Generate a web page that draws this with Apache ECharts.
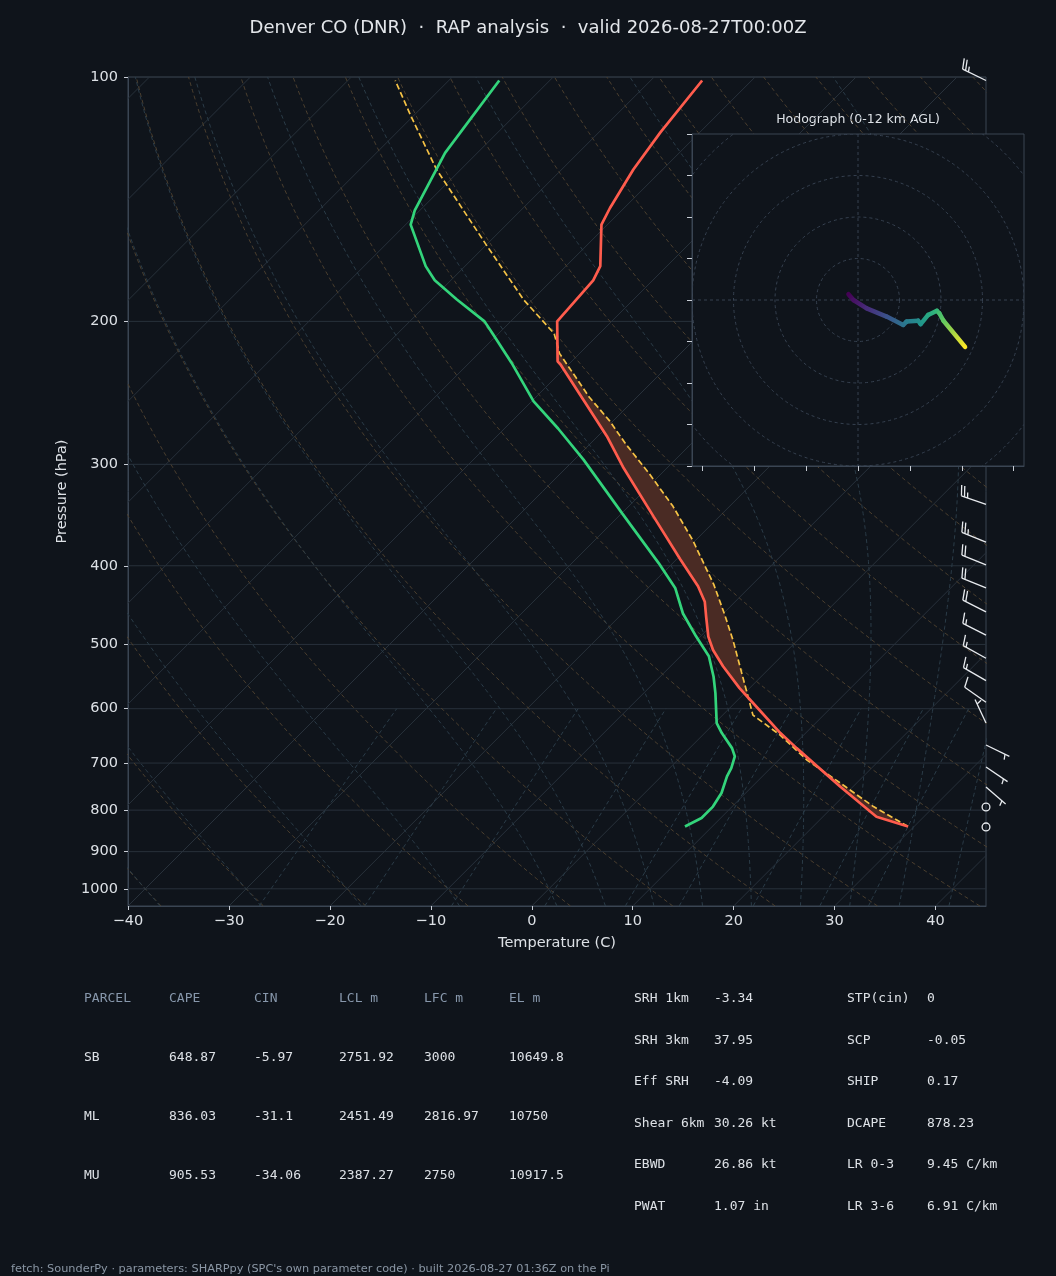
<!DOCTYPE html>
<html>
<head>
<meta charset="utf-8">
<title>Denver CO skew-T</title>
<script src="https://cdn.jsdelivr.net/npm/echarts@6/dist/echarts.min.js"></script>
<style>
  html, body { margin: 0; padding: 0; background: #0f141b; }
  #chart { width: 1056px; height: 1276px; }
</style>
</head>
<body>
<div id="chart"></div>
<script>
// --- layout of the skew-T box (pixels) ---
const BG = '#0f141b'
const FRAME = '#3a4553'
const TICK = '#c9ced6'
const TEXT = '#dde1e6'
const GRID_LEFT = 128
const GRID_TOP = 77
const GRID_W = 858
const GRID_H = 829
const T_MIN = -40
const T_MAX = 45
const P_TOP = 100
const P_BOT = 1050
// 45 degree skew, expressed in degC per decade of pressure
const SKEW = (GRID_H / Math.log10(P_BOT / P_TOP)) / (GRID_W / (T_MAX - T_MIN))

// --- tick labels ---
const pressureTicks = [100, 200, 300, 400, 500, 600, 700, 800, 900, 1000]
const tempTicks = [-40, -30, -20, -10, 0, 10, 20, 30, 40]

// --- sounding ---
const tempP = [838, 815, 748, 671, 643, 585, 566, 532, 508, 489, 462, 443, 424, 393, 348, 302, 277, 250, 226, 224, 200, 178, 171, 152, 145, 130, 117, 101]
const tempT = [29.4, 25.3, 18.7, 10.6, 7.5, 1.2, -1.0, -4.8, -7.4, -9.2, -11.4, -13.0, -15.2, -19.6, -26.5, -34.5, -39.1, -45.0, -50.8, -51.4, -55.4, -55.9, -56.6, -60.6, -61.4, -62.9, -63.9, -64.9]

const dewP = [838, 818, 792, 762, 727, 710, 687, 671, 643, 625, 574, 548, 517, 489, 458, 426, 397, 345, 296, 271, 251, 225, 207, 200, 188, 178, 171, 152, 146, 124, 101]
const dewT = [7.3, 8.1, 8.1, 7.6, 6.5, 6.1, 5.3, 4.2, 1.7, 0.2, -2.9, -4.7, -7.2, -10.4, -14.0, -17.3, -21.4, -29.9, -39.1, -44.7, -49.8, -55.8, -60.6, -62.6, -67.5, -71.6, -73.9, -79.5, -80.5, -83.2, -85.0]

const parcelP = [838, 792, 741, 694, 646, 611, 580, 542, 494, 460, 422, 372, 338, 308, 283, 265, 248, 219, 207, 188, 161, 130, 112, 101]
const parcelT = [29.4, 24.0, 18.4, 12.8, 7.6, 3.0, 0.7, -2.3, -6.4, -9.7, -13.8, -20.3, -25.6, -31.2, -36.5, -40.4, -44.7, -52.0, -54.5, -60.9, -70.0, -82.4, -90.1, -95.3]

// wind barbs: pressure, speed (kt), direction the wind blows from (deg)
const barbP = [101, 336, 374, 399, 426, 456, 487, 520, 554, 589, 625, 665, 708, 749, 793, 839]
const barbSpd = [25, 25, 25, 20, 20, 20, 15, 15, 15, 10, 5, 5, 5, 5, 0, 0]
const barbDir = [296, 289, 292, 292, 292, 297, 297, 299, 300, 305, 335, 116, 124, 131, 0, 0]

// hodograph (kt) and height AGL (km)
const hodoU = [-2.3, -1.1, 2.1, 6.9, 10.9, 11.7, 14.5, 15.1, 16.9, 19.0, 19.6, 20.6, 25.8]
const hodoV = [1.4, 0.0, -2.0, -4.0, -6.0, -5.2, -5.0, -5.8, -3.6, -2.6, -3.2, -5.0, -11.3]
const hodoH = [0, 0.5, 1.5, 3.0, 4.5, 5.0, 5.8, 6.2, 7.2, 8.0, 8.4, 9.0, 12.0]
const hodoRings = [10, 20, 30, 40, 50]
const hodoXTicks = [-37.5, -25, -12.5, 0, 12.5, 25, 37.5]

// background guides
const dryAdiabatStarts = []
for (let t = -40; t <= 250; t += 10) dryAdiabatStarts.push(t)
const moistAdiabatStarts = [-40, -30, -20, -10, 0, 5, 10, 15, 20, 25, 30, 35, 40, 45]
const mixingRatios = [0.0004, 0.001, 0.002, 0.004, 0.007, 0.01, 0.016, 0.024, 0.032]

// table
const parcelHeader = ['PARCEL', 'CAPE', 'CIN', 'LCL m', 'LFC m', 'EL m']
const parcelNames = ['SB', 'ML', 'MU']
const parcelCape = ['648.87', '836.03', '905.53']
const parcelCin = ['-5.97', '-31.1', '-34.06']
const parcelLcl = ['2751.92', '2451.49', '2387.27']
const parcelLfc = ['3000', '2816.97', '2750']
const parcelEl = ['10649.8', '10750', '10917.5']
const indexNamesA = ['SRH 1km', 'SRH 3km', 'Eff SRH', 'Shear 6km', 'EBWD', 'PWAT']
const indexValuesA = ['-3.34', '37.95', '-4.09', '30.26 kt', '26.86 kt', '1.07 in']
const indexNamesB = ['STP(cin)', 'SCP', 'SHIP', 'DCAPE', 'LR 0-3', 'LR 3-6']
const indexValuesB = ['0', '-0.05', '0.17', '878.23', '9.45 C/km', '6.91 C/km']

const VIRIDIS = ['#440154', '#482878', '#3e4989', '#31688e', '#26828e', '#1f9e89', '#35b779', '#6ece58', '#b5de2b', '#fde725']
const HODO_TOP = 12

// skewed x position for a temperature at a pressure
function skewX (t, p) {
  return t + SKEW * Math.log10(P_BOT / p)
}
function pt (t, p) {
  return [skewX(t, p), Math.log10(p)]
}
const GAP = ['-', '-']

function guideLevels () {
  const out = []
  for (let i = 0; i <= 60; i++) out.push(P_BOT * Math.pow(P_TOP / P_BOT, i / 60))
  return out
}

function isobarData () {
  const d = []
  pressureTicks.forEach(p => { d.push([T_MIN, Math.log10(p)], [T_MAX, Math.log10(p)], GAP) })
  return d
}

function isothermData () {
  const d = []
  for (let t = -130; t <= 40; t += 10) d.push(pt(t, P_BOT), pt(t, P_TOP), GAP)
  return d
}

function dryData () {
  const d = []
  const levels = guideLevels()
  dryAdiabatStarts.forEach(t0 => {
    levels.forEach(p => d.push(pt((t0 + 273.15) * Math.pow(p / 1000, 0.28571) - 273.15, p)))
    d.push(GAP)
  })
  return d
}

function moistRate (tK, p) {
  const tc = tK - 273.15
  const es = 6.112 * Math.exp(17.67 * tc / (tc + 243.5))
  const rs = 0.622 * es / (p - es)
  return (287.04 * tK + 2.501e6 * rs) / p / (1005.7 + 2.501e6 * 2.501e6 * rs * 0.622 / (287.04 * tK * tK))
}

function moistRun (t0, pEnd, dp) {
  const out = []
  let t = t0 + 273.15
  let p = 1000
  out.push([t, p])
  while ((dp < 0 && p > pEnd) || (dp > 0 && p < pEnd)) {
    const k1 = moistRate(t, p)
    const k2 = moistRate(t + k1 * dp / 2, p + dp / 2)
    const k3 = moistRate(t + k2 * dp / 2, p + dp / 2)
    const k4 = moistRate(t + k3 * dp, p + dp)
    t += dp * (k1 + 2 * k2 + 2 * k3 + k4) / 6
    p += dp
    out.push([t, p])
  }
  return out
}

function moistData () {
  const d = []
  moistAdiabatStarts.forEach(t0 => {
    const down = moistRun(t0, P_BOT, 5).reverse()
    const up = moistRun(t0, P_TOP, -5).slice(1)
    down.concat(up).forEach(([tK, p]) => d.push(pt(tK - 273.15, p)))
    d.push(GAP)
  })
  return d
}

function mixingData () {
  const d = []
  mixingRatios.forEach(w => {
    for (let p = P_BOT; p >= 600; p -= 25) {
      const e = w * p / (0.622 + w)
      const l = Math.log(e / 6.112)
      d.push(pt(243.5 * l / (17.67 - l), p))
    }
    d.push(GAP)
  })
  return d
}

function profile (ps, ts) {
  return ps.map((p, i) => pt(ts[i], p))
}

// linear interpolation in log-p
function interpAt (ps, ts, p) {
  for (let i = 0; i < ps.length - 1; i++) {
    if (p <= ps[i] && p >= ps[i + 1]) {
      const f = (Math.log(ps[i]) - Math.log(p)) / (Math.log(ps[i]) - Math.log(ps[i + 1]))
      return ts[i] + f * (ts[i + 1] - ts[i])
    }
  }
  return null
}

// positive area between parcel and environment
function capePolygon () {
  const top = Math.max(parcelP[parcelP.length - 1], tempP[tempP.length - 1])
  const levels = Array.from(new Set(tempP.concat(parcelP))).filter(p => p >= top).sort((a, b) => b - a)
  const upper = []
  const lower = []
  levels.forEach(p => {
    const te = interpAt(tempP, tempT, p)
    const tp = interpAt(parcelP, parcelT, p)
    if (te === null || tp === null) return
    upper.push(pt(Math.max(te, tp), p))
    lower.push(pt(te, p))
  })
  return upper.concat(lower.reverse())
}

// viridis lookup for hodograph height
function hexRgb (h) {
  return [1, 3, 5].map(i => parseInt(h.slice(i, i + 2), 16))
}
function viridisAt (f) {
  f = Math.min(1, Math.max(0, f)) * (VIRIDIS.length - 1)
  const i = Math.min(VIRIDIS.length - 2, Math.floor(f))
  const a = hexRgb(VIRIDIS[i])
  const b = hexRgb(VIRIDIS[i + 1])
  const k = f - i
  return 'rgb(' + a.map((v, j) => Math.round(v + (b[j] - v) * k)).join(',') + ')'
}

const BARB_LEN = 26
function barbGraphic (base, spd, dir) {
  const L = BARB_LEN
  const col = '#e8ebef'
  const style = { stroke: col, lineWidth: 1.3, fill: 'none' }
  const mag = 5 * Math.round(spd / 5)
  if (mag < 5) {
    return { type: 'circle', shape: { cx: base[0], cy: base[1], r: 0.15 * L }, style }
  }
  const rad = dir * Math.PI / 180
  const phi = Math.atan2(-Math.cos(rad), -Math.sin(rad)) + Math.PI / 2
  const c = Math.cos(phi)
  const s = Math.sin(phi)
  const toPx = ([x, y]) => [base[0] + x * c - y * s, base[1] - (x * s + y * c)]
  const h = 0.4 * L
  const w = 0.25 * L
  const sp = 0.125 * L
  let m = mag
  const nFlag = Math.floor(m / 50); m -= nFlag * 50
  const nBarb = Math.floor(m / 10); m -= nBarb * 10
  const half = m >= 5
  const kids = [{ type: 'polyline', shape: { points: [[0, 0], [0, L]].map(toPx) }, style }]
  let off = L
  for (let i = 0; i < nFlag; i++) {
    if (off !== L) off += sp / 2
    kids.push({ type: 'polygon', shape: { points: [[0, off], [h, off - w / 2], [0, off - w]].map(toPx) }, style: { fill: col, stroke: col, lineWidth: 1 } })
    off -= w + sp
  }
  for (let i = 0; i < nBarb; i++) {
    kids.push({ type: 'polyline', shape: { points: [[0, off], [h, off + w / 2]].map(toPx) }, style })
    off -= sp
  }
  if (half) {
    if (off === L) off -= 1.5 * sp
    kids.push({ type: 'polyline', shape: { points: [[0, off], [h / 2, off + w / 4]].map(toPx) }, style })
  }
  return { type: 'group', children: kids }
}

function guideSeries (data, color, dashed) {
  return {
    type: 'line',
    data,
    symbol: 'none',
    silent: true,
    connectNulls: false,
    clip: true,
    z: 1,
    lineStyle: { color, width: 1, type: dashed ? [4, 3] : 'solid' }
  }
}

const capePts = capePolygon()

const series = [
  guideSeries(isobarData(), '#28313b', false),
  guideSeries(isothermData(), '#28313b', false),
  guideSeries(dryData(), '#4b3f2f', true),
  guideSeries(moistData(), '#2b3c48', true),
  guideSeries(mixingData(), '#2b3c48', true),
  {
    type: 'custom',
    data: [[0, 2.5]],
    clip: true,
    silent: true,
    z: 2,
    renderItem: (params, api) => ({
      type: 'polygon',
      shape: { points: capePts.map(d => api.coord(d)) },
      style: { fill: '#4a2b24', stroke: 'none' }
    })
  },
  {
    type: 'line',
    data: profile(parcelP, parcelT),
    symbol: 'none',
    z: 3,
    lineStyle: { color: '#f5c245', width: 1.7, type: [6, 3] }
  },
  {
    type: 'line',
    data: profile(dewP, dewT),
    symbol: 'none',
    z: 4,
    lineStyle: { color: '#33d47b', width: 2.7 }
  },
  {
    type: 'line',
    data: profile(tempP, tempT),
    symbol: 'none',
    z: 4,
    lineStyle: { color: '#ff5c4d', width: 2.7 }
  },
  {
    type: 'custom',
    clip: false,
    silent: true,
    z: 5,
    data: barbP.map((p, i) => [T_MAX, Math.log10(p), barbSpd[i], barbDir[i]]),
    encode: { x: 0, y: 1 },
    renderItem: (params, api) => barbGraphic(api.coord([api.value(0), api.value(1)]), api.value(2), api.value(3))
  },
  {
    type: 'custom',
    xAxisIndex: 1,
    yAxisIndex: 1,
    zlevel: 1,
    z: 3,
    clip: true,
    silent: true,
    data: [[0, 0]],
    renderItem: (params, api) => {
      const c = api.coord([0, 0])
      const st = { fill: 'none', stroke: '#364150', lineWidth: 1, lineDash: [3, 3] }
      const kids = hodoRings.map(r => ({ type: 'circle', shape: { cx: c[0], cy: c[1], r: Math.abs(api.size([r, 0])[0]) }, style: st }))
      const l = api.coord([-40, 0])
      const r = api.coord([40, 0])
      const t = api.coord([0, 40])
      const b = api.coord([0, -40])
      kids.push({ type: 'line', shape: { x1: l[0], y1: l[1], x2: r[0], y2: r[1] }, style: st })
      kids.push({ type: 'line', shape: { x1: t[0], y1: t[1], x2: b[0], y2: b[1] }, style: st })
      return { type: 'group', children: kids }
    }
  },
  {
    // hodograph trace, one segment per pair of points, coloured by height
    type: 'custom',
    xAxisIndex: 1,
    yAxisIndex: 1,
    zlevel: 1,
    z: 5,
    clip: true,
    silent: true,
    data: hodoU.slice(1).map((u, i) => [hodoU[i], hodoV[i], u, hodoV[i + 1], hodoH[i], hodoH[i + 1]]),
    encode: { x: [0, 2], y: [1, 3] },
    renderItem: (params, api) => {
      const a = api.coord([api.value(0), api.value(1)])
      const b = api.coord([api.value(2), api.value(3)])
      const stroke = new echarts.graphic.LinearGradient(a[0], a[1], b[0] + 0.01, b[1] + 0.01, [
        { offset: 0, color: viridisAt(api.value(4) / HODO_TOP) },
        { offset: 1, color: viridisAt(api.value(5) / HODO_TOP) }
      ], true)
      return {
        type: 'line',
        shape: { x1: a[0], y1: a[1], x2: b[0], y2: b[1] },
        style: { stroke, lineWidth: 4.5, lineCap: 'round' }
      }
    }
  }
]

// table and captions
const FONT = 'DejaVu Sans'
const MONO = 'DejaVu Sans Mono'
const graphic = []
function addText (x, y, text, fill, size, family, align) {
  graphic.push({
    type: 'text',
    x,
    y,
    silent: true,
    style: { text, fill, fontSize: size, fontFamily: family, align: align || 'left', verticalAlign: 'middle' }
  })
}
const colX = [84, 169, 254, 339, 424, 509]
const rowY = [999, 1058, 1117, 1176]
parcelHeader.forEach((h, i) => addText(colX[i], rowY[0], h, '#8797ab', 13, MONO))
parcelNames.forEach((n, r) => {
  const row = [n, parcelCape[r], parcelCin[r], parcelLcl[r], parcelLfc[r], parcelEl[r]]
  row.forEach((v, i) => addText(colX[i], rowY[r + 1], v, TEXT, 13, MONO))
})
const idxY = [999, 1041, 1082, 1124, 1165, 1207]
indexNamesA.forEach((n, i) => {
  addText(634, idxY[i], n, TEXT, 13, MONO)
  addText(714, idxY[i], indexValuesA[i], TEXT, 13, MONO)
})
indexNamesB.forEach((n, i) => {
  addText(847, idxY[i], n, TEXT, 13, MONO)
  addText(927, idxY[i], indexValuesB[i], TEXT, 13, MONO)
})
addText(858, 120, 'Hodograph (0-12 km AGL)', TEXT, 12.5, FONT, 'center')
addText(11, 1269, 'fetch: SounderPy \u00b7 parameters: SHARPpy (SPC\'s own parameter code) \u00b7 built 2026-08-27 01:36Z on the Pi', '#8a96a4', 11.3, FONT)

const minusFmt = v => (v < 0 ? '\u2212' + Math.abs(v) : String(v))

const option = {
  backgroundColor: BG,
  animation: false,
  textStyle: { fontFamily: FONT },
  title: {
    text: 'Denver CO (DNR)  \u00b7  RAP analysis  \u00b7  valid 2026-08-27T00:00Z',
    left: 'center',
    top: 14,
    textStyle: { color: '#e3e6ea', fontSize: 18, fontWeight: 'normal', fontFamily: FONT }
  },
  grid: [
    { left: GRID_LEFT, top: GRID_TOP, width: GRID_W, height: GRID_H, show: true, borderColor: FRAME, borderWidth: 1, backgroundColor: 'transparent', outerBoundsMode: 'none' },
    { left: 692, top: 134, width: 332, height: 332, show: true, borderColor: FRAME, borderWidth: 1, backgroundColor: BG, zlevel: 1, outerBoundsMode: 'none' }
  ],
  xAxis: [
    {
      type: 'value',
      gridIndex: 0,
      min: T_MIN,
      max: T_MAX,
      name: 'Temperature (C)',
      nameLocation: 'middle',
      nameGap: 30,
      nameTextStyle: { color: TEXT, fontSize: 14.5, fontFamily: FONT },
      axisLine: { show: true, onZero: false, lineStyle: { color: FRAME } },
      axisTick: { show: true, customValues: tempTicks, length: 4, lineStyle: { color: TICK } },
      axisLabel: { customValues: tempTicks, color: TEXT, fontSize: 14.5, margin: 8, formatter: minusFmt },
      splitLine: { show: false }
    },
    {
      type: 'value',
      gridIndex: 1,
      min: -40,
      max: 40,
      zlevel: 1,
      axisLine: { show: true, onZero: false, lineStyle: { color: FRAME } },
      axisTick: { show: true, customValues: hodoXTicks, length: 5, lineStyle: { color: TICK } },
      axisLabel: { show: false },
      splitLine: { show: false }
    }
  ],
  yAxis: [
    {
      type: 'value',
      gridIndex: 0,
      min: Math.log10(P_TOP),
      max: Math.log10(P_BOT),
      inverse: true,
      name: 'Pressure (hPa)',
      nameLocation: 'middle',
      nameGap: 58,
      nameTextStyle: { color: TEXT, fontSize: 14.5, fontFamily: FONT },
      axisLine: { show: true, onZero: false, lineStyle: { color: FRAME } },
      axisTick: { show: true, customValues: pressureTicks.map(p => Math.log10(p)), length: 4, lineStyle: { color: TICK } },
      axisLabel: {
        customValues: pressureTicks.map(p => Math.log10(p)),
        color: TEXT,
        fontSize: 14.5,
        margin: 10,
        formatter: v => String(Math.round(Math.pow(10, v)))
      },
      splitLine: { show: false }
    },
    {
      type: 'value',
      gridIndex: 1,
      min: -40,
      max: 40,
      interval: 10,
      zlevel: 1,
      axisLine: { show: true, onZero: false, lineStyle: { color: FRAME } },
      axisTick: { show: true, length: 5, lineStyle: { color: TICK } },
      axisLabel: { show: false },
      splitLine: { show: false }
    }
  ],
  graphic,
  series
}

const chart = echarts.init(document.getElementById('chart'))
chart.setOption(option)
</script>
</body>
</html>
